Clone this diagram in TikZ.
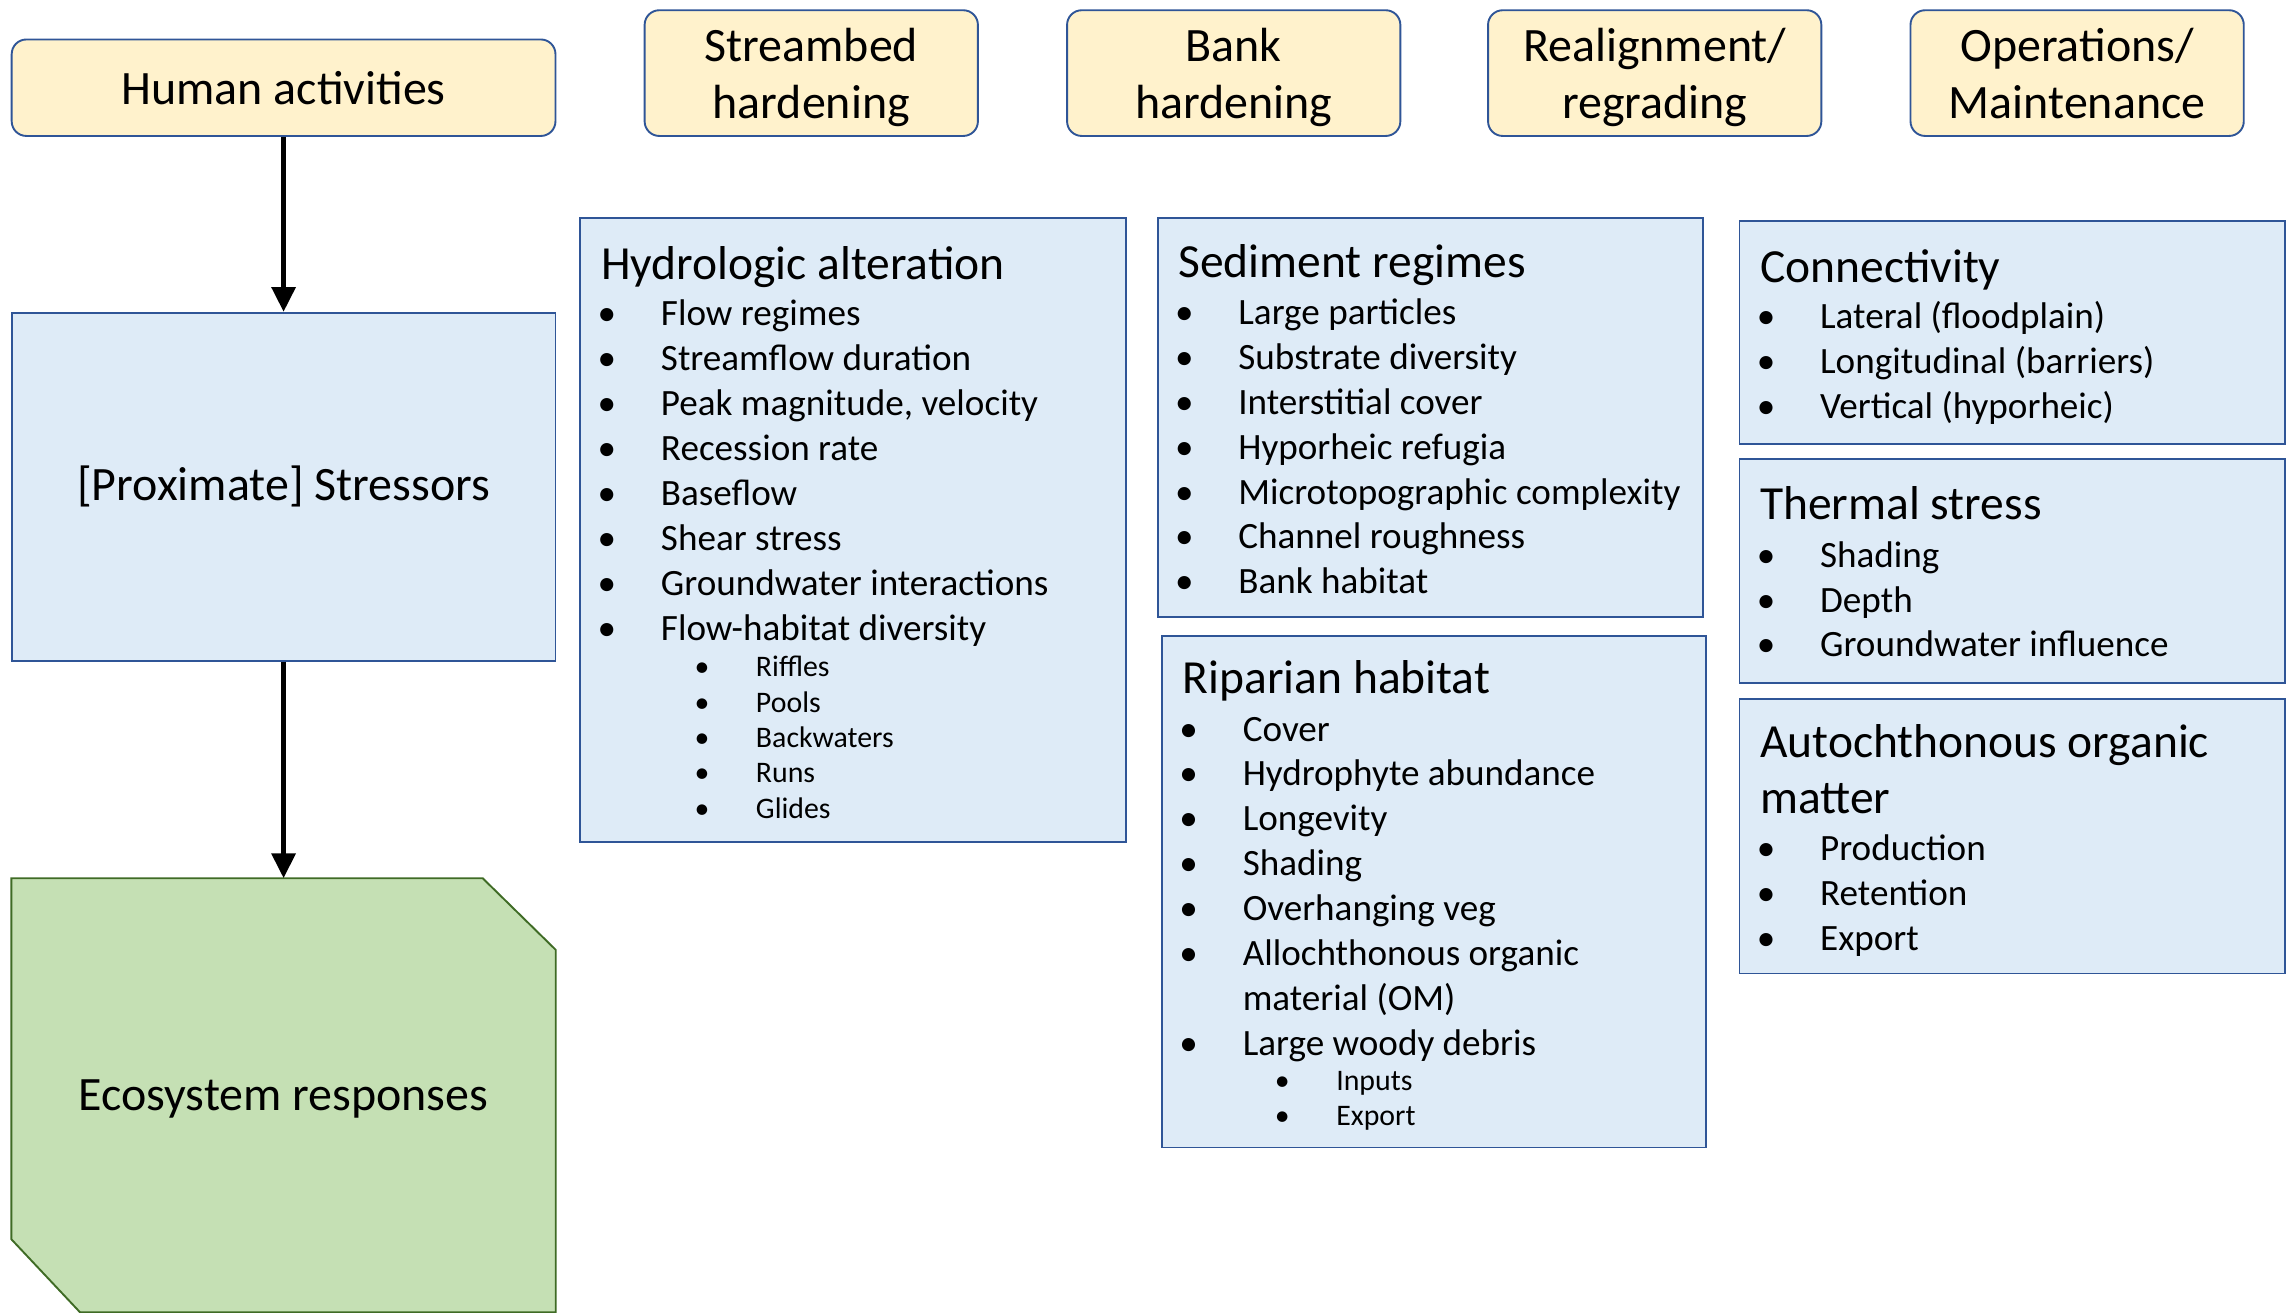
\documentclass[tikz,border=0pt]{standalone}
\usepackage{fontspec}
\setmainfont{Carlito}
\usetikzlibrary{arrows.meta,backgrounds}

\definecolor{actfill}{HTML}{FFF2CC}
\definecolor{boxblue}{HTML}{2F5597}
\definecolor{blufill}{HTML}{DEEBF7}
\definecolor{ecofill}{HTML}{C5E0B4}
\definecolor{ecoline}{HTML}{3F6B25}
\newcommand{\bul}{\llap{\makebox[74pt]{\textbullet}}}

\tikzset{
  actbox/.style={draw=boxblue,fill=actfill,line width=1.3pt,rounded corners=10pt,align=center,
    text depth=0pt,font=\fontsize{32.8}{39}\selectfont},
  listbox/.style={draw=boxblue,fill=blufill,line width=1.3pt},
  bigtxt/.style={font=\fontsize{32.8}{39}\selectfont},
  ttl/.style={anchor=base west,inner sep=0pt,font=\fontsize{32.5}{38}\selectfont},
  itmc/.style={anchor=base west,inner sep=0pt,font=\fontsize{25.4}{30}\selectfont},
  itm/.style={itmc,execute at begin node=\bul},
  subitm/.style={anchor=base west,inner sep=0pt,font=\fontsize{20.4}{24}\selectfont,execute at begin node=\bul},
}

\begin{document}
\begin{tikzpicture}[x=1pt,y=-1pt,>={Triangle[length=17pt,width=16pt]}]
  \useasboundingbox (0,0) rectangle (1568,898);

  % activities
  \node[actbox,minimum width=372pt,minimum height=66pt] (act) at (194,60) {Human activities};
  \node[actbox,minimum width=228pt,minimum height=86pt] (bed) at (555,50) {Streambed\\hardening};
  \node[actbox,minimum width=228pt,minimum height=86pt] (bank) at (844,50) {Bank\\hardening};
  \node[actbox,minimum width=228pt,minimum height=86pt] (realign) at (1132,50) {Realignment/\\regrading};
  \node[actbox,minimum width=228pt,minimum height=86pt] (ops) at (1421,50) {Operations/\\Maintenance};

  % left column
  \node[listbox,bigtxt,minimum width=372pt,minimum height=238pt] (str) at (194,333) {[Proximate] Stressors};
  \node[bigtxt,text depth=0pt,minimum width=372pt,minimum height=296.6pt] (eco) at (194,749.3) {Ecosystem responses};
  \begin{scope}[on background layer]
    \draw[ecoline,fill=ecofill,line width=1.3pt] (eco.north west) -- ([xshift=-50pt]eco.north east)
      -- ([yshift=-49pt]eco.north east) -- (eco.south east) -- ([xshift=47pt]eco.south west)
      -- ([yshift=50pt]eco.south west) -- cycle;
  \end{scope}
  \draw[->,line width=3.5pt] (act) -- (str);
  \draw[->,line width=3.5pt] (str) -- (eco);

  % hydrologic alteration
  \node[listbox,minimum width=373pt,minimum height=427pt] (hyd) at (583.5,362.5) {};
  \node[ttl] (hydt) at (411,191.5) {Hydrologic alteration};
  \foreach \t [count=\i from 0] in {Flow regimes,Streamflow duration,{Peak magnitude, velocity},Recession rate,
      Baseflow,Shear stress,Groundwater interactions,Flow-habitat diversity}
    \node[itm] (hyd\i) at (452,{223+30.7*\i}) {\t};
  \foreach \t [count=\i from 0] in {Riffles,Pools,Backwaters,Runs,Glides}
    \node[subitm] (hyds\i) at (517,{463+24.2*\i}) {\t};

  % sediment regimes
  \node[listbox,minimum width=373pt,minimum height=273pt] (sed) at (978.5,285.5) {};
  \node[ttl] (sedt) at (806,189.5) {Sediment regimes};
  \foreach \t [count=\i from 0] in {Large particles,Substrate diversity,Interstitial cover,Hyporheic refugia,
      Microtopographic complexity,Channel roughness,Bank habitat}
    \node[itm] (sed\i) at (847,{222+30.7*\i}) {\t};

  % riparian habitat
  \node[listbox,minimum width=372pt,minimum height=350pt] (rip) at (981,610) {};
  \node[ttl] (ript) at (809,474.5) {Riparian habitat};
  \foreach \t [count=\i from 0] in {Cover,Hydrophyte abundance,Longevity,Shading,Overhanging veg,Allochthonous organic}
    \node[itm] (rip\i) at (850,{507+30.7*\i}) {\t};
  \node[itmc] (rip6) at (850,691.2) {material (OM)};
  \node[itm] (rip7) at (850,721.9) {Large woody debris};
  \foreach \t [count=\i from 0] in {Inputs,Export}
    \node[subitm] (rips\i) at (914,{746+24.2*\i}) {\t};

  % connectivity
  \node[listbox,minimum width=373pt,minimum height=153pt] (con) at (1376.5,227.5) {};
  \node[ttl] (cont) at (1204,193.5) {Connectivity};
  \foreach \t [count=\i from 0] in {Lateral (floodplain),Longitudinal (barriers),Vertical (hyporheic)}
    \node[itm] (con\i) at (1245,{225+30.7*\i}) {\t};

  % thermal stress
  \node[listbox,minimum width=373pt,minimum height=153pt] (thm) at (1376.5,390.5) {};
  \node[ttl] (thmt) at (1204,355.5) {Thermal stress};
  \foreach \t [count=\i from 0] in {Shading,Depth,Groundwater influence}
    \node[itm] (thm\i) at (1245,{388+30.7*\i}) {\t};

  % autochthonous organic matter
  \node[listbox,minimum width=373pt,minimum height=188pt] (aut) at (1376.5,572) {};
  \node[ttl] (autt) at (1204,518.5) {Autochthonous organic};
  \node[ttl] (autt2) at (1204,556.5) {matter};
  \foreach \t [count=\i from 0] in {Production,Retention,Export}
    \node[itm] (aut\i) at (1245,{589+30.7*\i}) {\t};
\end{tikzpicture}
\end{document}
